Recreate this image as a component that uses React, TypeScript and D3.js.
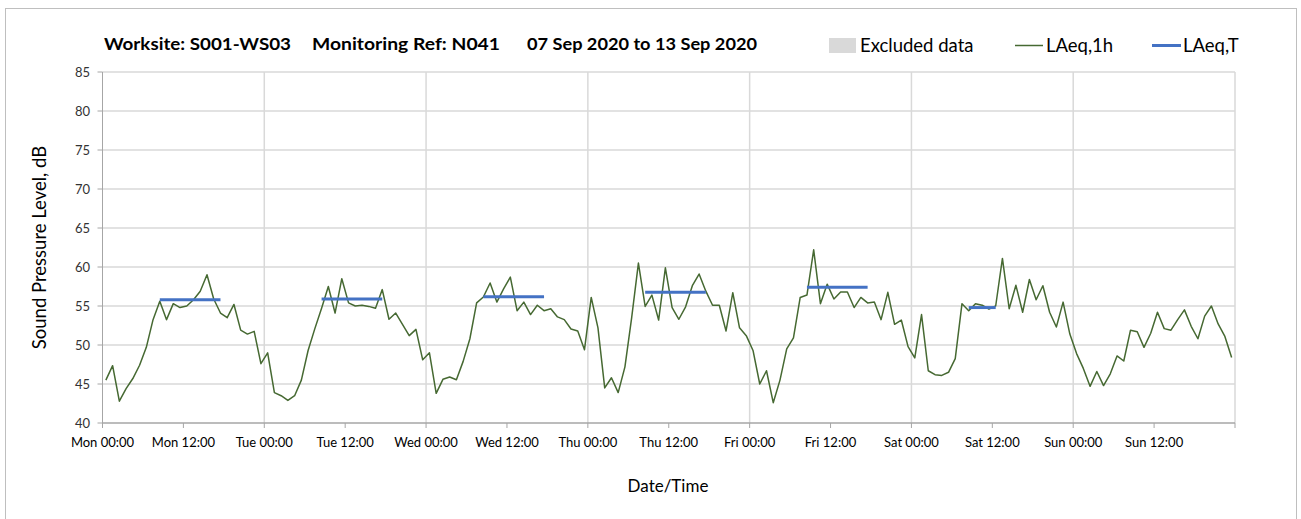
import React from "react";
import * as d3 from "d3";

// ---- Data ----
const titleParts = ["Worksite: S001-WS03", "Monitoring Ref: N041", "07 Sep 2020 to 13 Sep 2020"];
const dayNames = ["Mon", "Tue", "Wed", "Thu", "Fri", "Sat", "Sun"];
const yTicks = [40, 45, 50, 55, 60, 65, 70, 75, 80, 85];

// Hourly LAeq,1h values per day (hours 00..23)
const monLAeq1h = [45.5, 47.35, 42.8, 44.4, 45.7, 47.4, 49.7, 53.25, 55.6, 53.25, 55.3, 54.8, 55.0, 55.8, 56.9, 59.0, 55.9, 54.1, 53.5, 55.2, 51.9, 51.4, 51.75, 47.6];
const tueLAeq1h = [49.0, 43.9, 43.5, 42.9, 43.5, 45.5, 49.3, 52.1, 54.7, 57.5, 54.1, 58.5, 55.4, 55.0, 55.1, 54.95, 54.7, 57.1, 53.3, 54.1, 52.65, 51.2, 52.0, 48.1];
const wedLAeq1h = [49.0, 43.8, 45.6, 45.9, 45.55, 47.9, 50.8, 55.4, 56.15, 57.95, 55.5, 57.2, 58.7, 54.4, 55.5, 53.9, 55.1, 54.4, 54.65, 53.6, 53.25, 52.05, 51.8, 49.4];
const thuLAeq1h = [56.1, 52.2, 44.5, 45.8, 43.9, 47.2, 53.5, 60.5, 54.95, 56.4, 53.2, 59.9, 54.8, 53.3, 54.9, 57.6, 59.1, 56.9, 55.1, 55.1, 51.8, 56.7, 52.2, 51.2];
const friLAeq1h = [49.3, 45.0, 46.7, 42.6, 45.5, 49.5, 50.9, 56.1, 56.4, 62.2, 55.3, 57.8, 55.9, 56.8, 56.8, 54.8, 56.1, 55.4, 55.5, 53.25, 56.75, 52.65, 53.2, 49.8];
const satLAeq1h = [48.35, 53.9, 46.7, 46.2, 46.1, 46.5, 48.25, 55.3, 54.4, 55.3, 55.1, 54.6, 55.0, 61.1, 54.65, 57.65, 54.2, 58.4, 55.8, 57.6, 54.2, 52.3, 55.5, 51.4];
const sunLAeq1h = [48.9, 47.0, 44.7, 46.6, 44.8, 46.3, 48.6, 47.95, 51.9, 51.7, 49.7, 51.5, 54.2, 52.1, 51.9, 53.25, 54.5, 52.4, 50.8, 53.7, 55.0, 52.7, 51.1, 48.4];

// LAeq,T per day: value, first hour, last hour (null = none)
const laeqTValues = [55.8, 55.9, 56.2, 56.75, 57.4, 54.8, null];
const laeqTStartHour = [8, 8, 8, 8, 8, 8, null];
const laeqTEndHour = [17, 17, 17, 17, 17, 12, null];

const hourly = [monLAeq1h, tueLAeq1h, wedLAeq1h, thuLAeq1h, friLAeq1h, satLAeq1h, sunLAeq1h];

export default function App() {
  const W = 1301, H = 519;
  const x = d3.scaleLinear().domain([0, 168]).range([102.5, 1235]);
  const y = d3.scaleLinear().domain([40, 85]).range([423, 72]);

  const pts: [number, number][] = [];
  hourly.forEach((day, di) => day.forEach((v, h) => pts.push([di * 24 + h + 0.5, v])));
  const line = d3.line<[number, number]>().x((d) => x(d[0])).y((d) => y(d[1]));

  const xTickHours = d3.range(0, 169, 12);
  const dayBounds = d3.range(24, 169, 24);
  const font = "Lato, 'Open Sans', sans-serif";
  const axisColor = "#A6A6A6";
  const gridColor = "#D9D9D9";

  return (
    <svg width={W} height={H} style={{ position: "absolute", left: 0, top: 0, fontFamily: font }}>
      <rect x={0} y={0} width={W} height={H} fill="#fff" />
      <rect x={5.5} y={8.5} width={1291} height={520} fill="none" stroke="#BFBFBF" strokeWidth={1} />

      {/* Title */}
      <g fontWeight="bold" fontSize={17.5} fill="#000">
        <text x={104} y={50} textLength={187} lengthAdjust="spacingAndGlyphs">{titleParts[0]}</text>
        <text x={312} y={50} textLength={188} lengthAdjust="spacingAndGlyphs">{titleParts[1]}</text>
        <text x={527} y={50} textLength={230} lengthAdjust="spacingAndGlyphs">{titleParts[2]}</text>
      </g>

      {/* Legend */}
      <rect x={829} y={38} width={27} height={15} fill="#D9D9D9" />
      <text x={860} y={52} fontSize={18.5} fill="#000">Excluded data</text>
      <line x1={1015} x2={1043} y1={45.5} y2={45.5} stroke="#466932" strokeWidth={1.5} />
      <text x={1046} y={52} fontSize={18.5} fill="#000">LAeq,1h</text>
      <line x1={1152} x2={1181} y1={45.5} y2={45.5} stroke="#4472C4" strokeWidth={3} />
      <text x={1183} y={52} fontSize={18.5} fill="#000">LAeq,T</text>

      {/* Gridlines */}
      {yTicks.filter((t) => t > 40).map((t) => (
        <line key={"hg" + t} x1={x(0)} x2={x(168)} y1={y(t)} y2={y(t)} stroke={gridColor} strokeWidth={1.5} />
      ))}
      {dayBounds.map((h) => (
        <line key={"vg" + h} x1={x(h)} x2={x(h)} y1={y(85)} y2={y(40)} stroke={gridColor} strokeWidth={1.5} />
      ))}

      {/* Axes */}
      <line x1={x(0)} x2={x(0)} y1={y(85)} y2={y(40)} stroke={axisColor} strokeWidth={1} />
      {yTicks.map((t) => (
        <g key={"yt" + t}>
          <line x1={x(0) - 5} x2={x(0)} y1={y(t)} y2={y(t)} stroke={axisColor} />
          <text x={90} y={y(t) + 4.5} textAnchor="end" fontSize={13} fill="#333">{t}</text>
        </g>
      ))}
      <line x1={x(0)} x2={x(168)} y1={y(40)} y2={y(40)} stroke={axisColor} strokeWidth={1.5} />
      {xTickHours.map((h) => (
        <g key={"xt" + h}>
          <line x1={x(h)} x2={x(h)} y1={y(40)} y2={y(40) + 5} stroke={axisColor} />
          {h < 168 && (
            <text x={x(h)} y={447} textAnchor="middle" fontSize={13} fill="#000">
              {dayNames[Math.floor(h / 24)] + (h % 24 === 0 ? " 00:00" : " 12:00")}
            </text>
          )}
        </g>
      ))}

      {/* Axis titles */}
      <text x={668} y={492} textAnchor="middle" fontSize={17} fill="#000">Date/Time</text>
      <text transform={`translate(46,${(y(40) + y(85)) / 2}) rotate(-90)`} textAnchor="middle" fontSize={18.5} fill="#000">
        Sound Pressure Level, dB
      </text>

      {/* LAeq,1h line */}
      <path d={line(pts) || ""} fill="none" stroke="#466932" strokeWidth={1.5} strokeLinejoin="round" />

      {/* LAeq,T lines */}
      {laeqTValues.map((v, di) =>
        v == null ? null : (
          <line
            key={"lt" + di}
            x1={x(di * 24 + (laeqTStartHour[di] as number) + 0.5)}
            x2={x(di * 24 + (laeqTEndHour[di] as number) + 0.5)}
            y1={y(v)}
            y2={y(v)}
            stroke="#4472C4"
            strokeWidth={3}
          />
        )
      )}
    </svg>
  );
}
